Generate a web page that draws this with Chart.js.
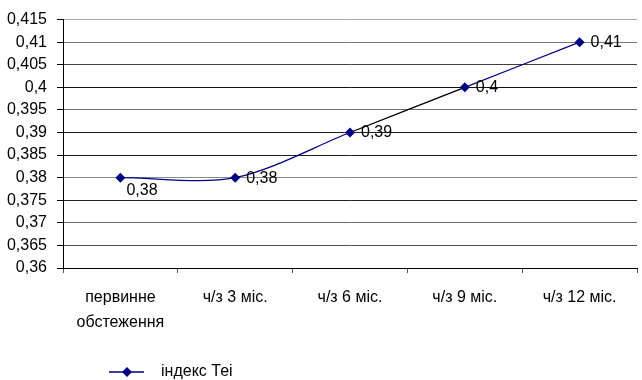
<!DOCTYPE html>
<html>
<head>
<meta charset="utf-8">
<script src="https://cdn.jsdelivr.net/npm/chart.js@4/dist/chart.umd.min.js"></script>
<style>
  html, body { margin: 0; padding: 0; background: #fff; }
  #wrap { width: 642px; height: 380px; }
</style>
</head>
<body>
<div id="wrap"><canvas id="c" width="642" height="380"></canvas></div>
<script>
// Категорії обстеження
const categories = [["первинне", "обстеження"], "ч/з 3 міс.", "ч/з 6 міс.", "ч/з 9 міс.", "ч/з 12 міс."];
// Індекс Теі
const seriesName = "індекс Теі";
const teiValues = [0.38, 0.38, 0.39, 0.40, 0.41];
const teiLabels = ["0,38", "0,38", "0,39", "0,4", "0,41"];
// Поділки осі Y
const yTicks = [0.36, 0.365, 0.37, 0.375, 0.38, 0.385, 0.39, 0.395, 0.4, 0.405, 0.41, 0.415];
const yTickLabels = ["0,36", "0,365", "0,37", "0,375", "0,38", "0,385", "0,39", "0,395", "0,4", "0,405", "0,41", "0,415"];

const NAVY = "#000080";
const FONT = "'Liberation Sans', Arial, sans-serif";
const gridShades = ["#000", "#505050", "#6a6a6a", "#202020", "#8a8a8a", "#202020",
                    "#202020", "#707070", "#101010", "#404040", "#787878", "#a8a8a8"];

Chart.defaults.font.family = FONT;
Chart.defaults.font.size = 16;
Chart.defaults.color = "#000";

// Підписи значень біля точок
const valueLabels = {
  id: "valueLabels",
  afterDatasetsDraw(chart) {
    const ctx = chart.ctx;
    const meta = chart.getDatasetMeta(0);
    ctx.save();
    ctx.font = "16px " + FONT;
    ctx.fillStyle = "#000";
    ctx.textAlign = "left";
    ctx.textBaseline = "middle";
    meta.data.forEach((pt, i) => {
      if (i === 0) {
        ctx.fillText(teiLabels[i], pt.x + 6, pt.y + 12.5);
      } else {
        ctx.fillText(teiLabels[i], pt.x + 11, pt.y + 0.5);
      }
    });
    ctx.restore();
  }
};

// Легенда: лінія з ромбом і назва ряду
const lineLegend = {
  id: "lineLegend",
  afterDraw(chart) {
    const ctx = chart.ctx;
    const y = 372;
    ctx.save();
    ctx.strokeStyle = NAVY;
    ctx.lineWidth = 1.3;
    ctx.beginPath();
    ctx.moveTo(109, y);
    ctx.lineTo(144, y);
    ctx.stroke();
    ctx.fillStyle = NAVY;
    ctx.beginPath();
    ctx.moveTo(127, y - 5);
    ctx.lineTo(132, y);
    ctx.lineTo(127, y + 5);
    ctx.lineTo(122, y);
    ctx.closePath();
    ctx.fill();
    ctx.fillStyle = "#000";
    ctx.font = "16px " + FONT;
    ctx.textAlign = "left";
    ctx.textBaseline = "middle";
    ctx.fillText(seriesName, 161, y);
    ctx.restore();
  }
};

new Chart(document.getElementById("c"), {
  type: "line",
  data: {
    labels: categories,
    datasets: [{
      label: seriesName,
      data: teiValues,
      borderColor: NAVY,
      borderWidth: 1.3,
      tension: 0.3,
      pointStyle: "rectRot",
      pointRadius: 5,
      pointBackgroundColor: NAVY,
      pointBorderColor: NAVY,
      pointBorderWidth: 0,
      segment: {
        borderColor: c => (c.p0DataIndex === 2 ? "#000" : undefined)
      }
    }]
  },
  options: {
    responsive: false,
    animation: false,
    layout: { padding: { top: 18, right: 2, bottom: 0, left: 0 } },
    plugins: {
      legend: { display: false },
      tooltip: { enabled: false }
    },
    scales: {
      x: {
        offset: true,
        grid: {
          offset: true,
          drawOnChartArea: false,
          tickLength: 5,
          tickColor: "#555"
        },
        border: { color: "#000", width: 1 },
        ticks: {
          padding: 12,
          maxRotation: 0,
          autoSkip: false,
          font: { size: 16, lineHeight: "25px" }
        },
        afterFit(scale) { scale.height = 112; }
      },
      y: {
        min: 0.36,
        max: 0.415,
        afterBuildTicks(scale) {
          scale.ticks = yTicks.map(v => ({ value: v }));
        },
        grid: {
          color: c => gridShades[c.index] || "#444",
          tickColor: "#000",
          tickLength: 6
        },
        border: { color: "#000", width: 1 },
        ticks: {
          padding: 10,
          font: { size: 16 },
          callback: (v, i) => yTickLabels[i]
        },
        afterFit(scale) { scale.width = 63; }
      }
    }
  },
  plugins: [valueLabels, lineLegend]
});
</script>
</body>
</html>
